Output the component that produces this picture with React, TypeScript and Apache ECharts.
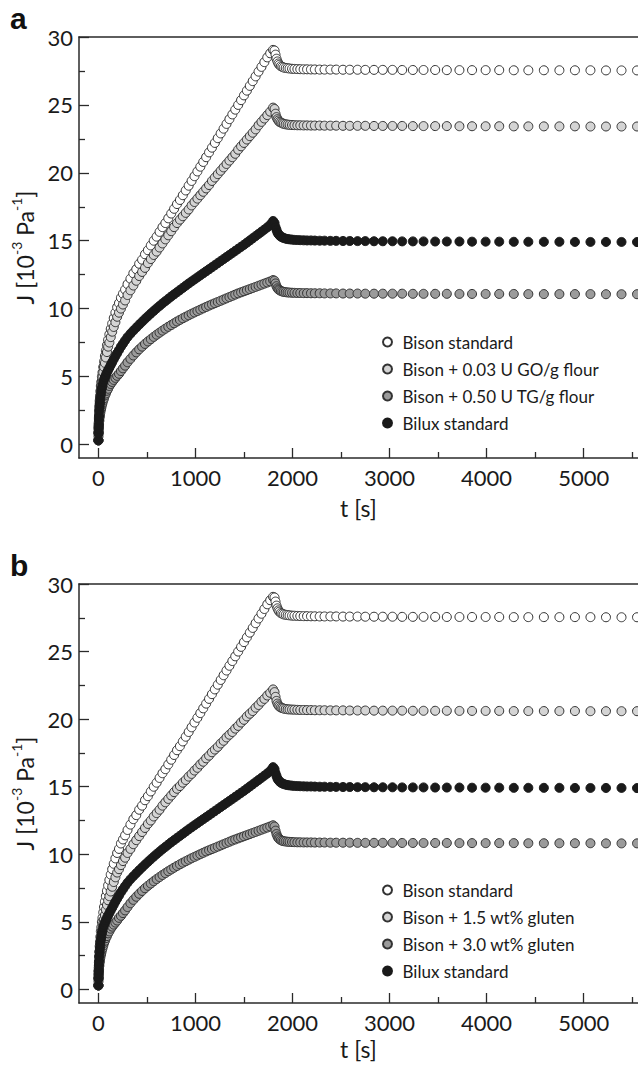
import React, { useEffect, useRef } from "react";
import * as echarts from "echarts";

// ---- Data ----
const T_CREEP = [0,1,2,3,5,7,10,13,16,20,25,30,36,42,50,58,67,77,88,100,113,127,142,158,175,193,212,232,253,275,300,330,360,390,420,450,480,510,540,570,600,630,660,690,720,750,780,810,840,870,900,930,960,990,1020,1050,1080,1110,1140,1170,1200,1230,1260,1290,1320,1350,1380,1410,1440,1470,1500,1530,1560,1590,1620,1650,1680,1710,1740,1770,1800];
const T_REC = [1815,1825,1835,1845,1855,1865,1880,1895,1910,1930,1950,1970,1995,2020,2050,2080,2115,2150,2190,2230,2280,2330,2390,2450,2520,2590,2670,2750,2840,2930,3030,3130,3240,3350,3470,3590,3720,3850,3990,4130,4280,4430,4590,4750,4910,5070,5230,5390,5550];

// Bison standard (both panels)
const BISON_STD_CREEP = [0.3,0.9,1.3,1.6,2.0,2.4,2.8,3.2,3.5,3.9,4.3,4.6,5.0,5.3,5.7,6.1,6.5,6.9,7.3,7.7,8.1,8.5,8.9,9.3,9.7,10.1,10.4,10.8,11.1,11.4,11.8,
  12.2,12.6,12.9,13.3,13.6,14.0,14.3,14.65,15.0,15.3,15.65,16.0,16.3,16.65,17.0,17.35,17.7,18.0,18.35,18.7,19.05,19.4,19.75,20.1,20.45,20.8,21.15,21.5,21.85,22.2,22.55,22.9,23.25,23.6,23.95,24.3,24.65,25.0,25.35,25.7,26.05,26.4,26.75,27.1,27.45,27.8,28.15,28.5,28.8,29.05];
const BISON_STD_REC = [29.0,28.7,28.4,28.2,28.05,27.95,27.85,27.8,27.75,27.72,27.7,27.68,27.66,27.65,27.64,27.63,27.62,27.62,27.61,27.61,27.6,27.6,27.6,27.6,27.59,27.59,27.59,27.58,27.58,27.58,27.58,27.57,27.57,27.57,27.57,27.56,27.56,27.56,27.56,27.56,27.55,27.55,27.55,27.55,27.55,27.55,27.54,27.54,27.54];

// Bilux standard (both panels)
const BILUX_STD_CREEP = [0.3,0.8,1.15,1.4,1.8,2.1,2.5,2.8,3.05,3.35,3.65,3.9,4.15,4.35,4.6,4.78,4.95,5.12,5.3,5.47,5.65,5.85,6.05,6.27,6.5,6.72,6.95,7.2,7.42,7.65,7.9,
  8.15,8.38,8.6,8.82,9.03,9.24,9.44,9.64,9.83,10.02,10.2,10.38,10.55,10.72,10.89,11.05,11.21,11.37,11.53,11.69,11.85,12.0,12.15,12.3,12.45,12.6,12.75,12.9,13.05,13.2,13.35,13.5,13.65,13.8,13.95,14.1,14.25,14.4,14.55,14.7,14.86,15.02,15.18,15.34,15.5,15.66,15.82,15.98,16.18,16.45];
const BILUX_STD_REC = [16.3,16.0,15.8,15.6,15.5,15.4,15.3,15.25,15.2,15.15,15.12,15.1,15.08,15.06,15.05,15.04,15.03,15.02,15.02,15.01,15.0,15.0,14.99,14.99,14.98,14.98,14.97,14.97,14.96,14.96,14.96,14.95,14.95,14.95,14.94,14.94,14.94,14.93,14.93,14.93,14.92,14.92,14.92,14.92,14.91,14.91,14.91,14.91,14.9];

// Panel a: + 0.03 U GO/g flour
const GO_CREEP = [0.3,0.85,1.2,1.5,1.9,2.2,2.6,3.0,3.3,3.6,4.0,4.3,4.65,4.9,5.3,5.7,6.0,6.4,6.8,7.2,7.5,7.9,8.3,8.65,9.0,9.4,9.7,10.0,10.3,10.6,11.0,
  11.35,11.7,12.05,12.4,12.7,13.0,13.35,13.65,13.95,14.2,14.5,14.8,15.1,15.4,15.7,16.0,16.3,16.55,16.8,17.05,17.3,17.6,17.85,18.1,18.35,18.6,18.85,19.1,19.4,19.65,19.9,20.15,20.4,20.65,20.9,21.15,21.4,21.7,21.95,22.2,22.45,22.7,22.95,23.2,23.5,23.75,24.0,24.25,24.5,24.8];
const GO_REC = [24.7,24.35,24.1,23.95,23.85,23.75,23.7,23.65,23.6,23.57,23.55,23.53,23.52,23.51,23.5,23.5,23.49,23.49,23.48,23.48,23.48,23.47,23.47,23.47,23.46,23.46,23.46,23.46,23.45,23.45,23.45,23.45,23.44,23.44,23.44,23.44,23.43,23.43,23.43,23.43,23.42,23.42,23.42,23.42,23.42,23.41,23.41,23.41,23.41];

// Panel a: + 0.50 U TG/g flour
const TG_CREEP = [0.3,0.6,0.85,1.0,1.3,1.5,1.75,2.0,2.15,2.35,2.55,2.7,2.9,3.05,3.25,3.4,3.6,3.75,3.95,4.1,4.3,4.45,4.6,4.75,4.9,5.05,5.2,5.4,5.6,5.8,6.05,
  6.3,6.55,6.78,7.0,7.2,7.4,7.58,7.75,7.92,8.08,8.23,8.38,8.52,8.66,8.79,8.92,9.05,9.17,9.29,9.4,9.51,9.62,9.72,9.82,9.92,10.02,10.12,10.22,10.31,10.4,10.49,10.58,10.67,10.76,10.85,10.94,11.03,11.12,11.2,11.28,11.36,11.44,11.52,11.6,11.68,11.76,11.84,11.92,12.0,12.1];
const TG_REC = [12.05,11.85,11.65,11.5,11.42,11.36,11.3,11.26,11.23,11.21,11.19,11.18,11.17,11.16,11.15,11.15,11.14,11.14,11.13,11.13,11.13,11.12,11.12,11.12,11.11,11.11,11.11,11.1,11.1,11.1,11.1,11.1,11.09,11.09,11.09,11.09,11.08,11.08,11.08,11.08,11.08,11.07,11.07,11.07,11.07,11.07,11.06,11.06,11.06];

// Panel b: + 1.5 wt% gluten
const GL15_CREEP = [0.3,0.8,1.1,1.4,1.75,2.0,2.4,2.75,3.05,3.3,3.7,3.95,4.25,4.55,4.9,5.2,5.5,5.9,6.25,6.6,6.9,7.25,7.6,7.95,8.3,8.65,8.9,9.2,9.5,9.75,10.1,
  10.4,10.75,11.05,11.35,11.65,11.95,12.25,12.5,12.8,13.05,13.3,13.6,13.85,14.1,14.35,14.6,14.85,15.05,15.3,15.5,15.75,15.95,16.2,16.4,16.65,16.85,17.1,17.3,17.55,17.75,17.95,18.2,18.4,18.65,18.85,19.05,19.3,19.5,19.75,19.95,20.2,20.4,20.6,20.85,21.05,21.3,21.5,21.75,21.95,22.2];
const GL15_REC = [22.0,21.65,21.35,21.15,21.02,20.93,20.86,20.82,20.78,20.75,20.73,20.72,20.71,20.7,20.69,20.68,20.68,20.67,20.67,20.66,20.66,20.66,20.65,20.65,20.65,20.64,20.64,20.64,20.63,20.63,20.63,20.63,20.62,20.62,20.62,20.62,20.61,20.61,20.61,20.61,20.6,20.6,20.6,20.6,20.6,20.59,20.59,20.59,20.59];

// Panel b: + 3.0 wt% gluten
const GL30_CREEP = [0.3,0.6,0.85,1.0,1.3,1.5,1.75,2.0,2.15,2.35,2.55,2.7,2.9,3.05,3.25,3.45,3.6,3.8,3.95,4.15,4.3,4.5,4.65,4.8,4.95,5.1,5.3,5.45,5.65,5.85,6.1,
  6.38,6.63,6.86,7.08,7.29,7.49,7.67,7.84,8.01,8.17,8.32,8.47,8.61,8.75,8.88,9.01,9.14,9.26,9.38,9.49,9.6,9.71,9.81,9.91,10.01,10.11,10.21,10.3,10.39,10.48,10.57,10.66,10.75,10.84,10.93,11.02,11.1,11.18,11.26,11.34,11.42,11.5,11.58,11.66,11.74,11.82,11.9,11.98,12.06,12.15];
const GL30_REC = [12.05,11.75,11.5,11.32,11.2,11.12,11.05,11.0,10.97,10.95,10.93,10.92,10.91,10.9,10.89,10.89,10.88,10.88,10.88,10.87,10.87,10.87,10.86,10.86,10.86,10.86,10.85,10.85,10.85,10.85,10.85,10.84,10.84,10.84,10.84,10.84,10.83,10.83,10.83,10.83,10.83,10.82,10.82,10.82,10.82,10.82,10.81,10.81,10.81];

const X_MAJOR = [0, 1000, 2000, 3000, 4000, 5000];
const X_MINOR = [500, 1500, 2500, 3500, 4500, 5500];
const Y_MAJOR = [0, 5, 10, 15, 20, 25, 30];
const Y_MINOR = [2.5, 7.5, 12.5, 17.5, 22.5, 27.5];

const NAMES_A = ["Bison standard", "Bison + 0.03 U GO/g flour", "Bison + 0.50 U TG/g flour", "Bilux standard"];
const NAMES_B = ["Bison standard", "Bison + 1.5 wt% gluten", "Bison + 3.0 wt% gluten", "Bilux standard"];

const FONT = "Lato";
const AX = "#2a2a2a";
const TXT = "#1a1a1a";

function build(creep: number[], rec: number[]) {
  const d: number[][] = [];
  T_CREEP.forEach((t, i) => d.push([t, creep[i]]));
  T_REC.forEach((t, i) => d.push([t, rec[i]]));
  return d;
}

export default function App() {
  const ref = useRef<HTMLDivElement>(null);
  useEffect(() => {
    if (!ref.current) return;
    const chart = echarts.init(ref.current, undefined, { renderer: "svg" });
    const grids = [
      { left: 79, top: 37, width: 559, height: 421, containLabel: false, outerBoundsMode: "none" },
      { left: 79, top: 584, width: 559, height: 419, containLabel: false, outerBoundsMode: "none" },
    ];
    const nameGaps = [38, 34];
    const fmt = (v: number) => String(v);
    const xAxes: any[] = [];
    const yAxes: any[] = [];
    grids.forEach((_, g) => {
      const common = { type: "value", gridIndex: g, min: -200, max: 5560, splitLine: { show: false } };
      xAxes.push({
        ...common,
        position: "bottom",
        name: "t [s]",
        nameLocation: "middle",
        nameGap: nameGaps[g],
        nameTextStyle: { fontFamily: FONT, fontSize: 23, color: TXT, lineHeight: 24 },
        axisLine: { show: true, onZero: false, lineStyle: { color: AX, width: 1.5 } },
        axisTick: { show: true, inside: true, length: 10, customValues: X_MAJOR, lineStyle: { color: AX, width: 1.3 } },
        axisLabel: { show: true, customValues: X_MAJOR, formatter: fmt, margin: 8, fontFamily: FONT, fontSize: 22, color: TXT },
      });
      xAxes.push({
        ...common,
        position: "bottom",
        axisLine: { show: false, onZero: false },
        axisTick: { show: true, inside: true, length: 6, customValues: X_MINOR, lineStyle: { color: AX, width: 1.3 } },
        axisLabel: { show: false },
      });
      xAxes.push({
        ...common,
        position: "top",
        axisLine: { show: true, onZero: false, lineStyle: { color: AX, width: 1.5 } },
        axisTick: { show: false },
        axisLabel: { show: false },
      });
      const ycommon = { type: "value", gridIndex: g, min: -1, max: 30, splitLine: { show: false } };
      yAxes.push({
        ...ycommon,
        position: "left",
        name: "{n|J [10}{s|-3}{n| Pa}{s|-1}{n|]}",
        nameLocation: "middle",
        nameGap: 38,
        nameRotate: 90,
        nameTextStyle: {
          fontFamily: FONT,
          color: TXT,
          rich: {
            n: { fontFamily: FONT, fontSize: 23, color: TXT, lineHeight: 32 },
            s: { fontFamily: FONT, fontSize: 14, color: TXT, lineHeight: 14, verticalAlign: "top" },
          },
        },
        axisLine: { show: true, onZero: false, lineStyle: { color: AX, width: 1.5 } },
        axisTick: { show: true, inside: true, length: 10, customValues: Y_MAJOR, lineStyle: { color: AX, width: 1.3 } },
        axisLabel: { show: true, customValues: Y_MAJOR, formatter: fmt, margin: 6, fontFamily: FONT, fontSize: 22, color: TXT },
      });
      yAxes.push({
        ...ycommon,
        position: "left",
        axisLine: { show: false, onZero: false },
        axisTick: { show: true, inside: true, length: 6, customValues: Y_MINOR, lineStyle: { color: AX, width: 1.3 } },
        axisLabel: { show: false },
      });
    });

    const styles = [
      { color: "#ffffff", borderColor: "#333333" },
      { color: "#d4d4d4", borderColor: "#333333" },
      { color: "#9b9b9b", borderColor: "#333333" },
      { color: "#1a1a1a", borderColor: "#1a1a1a" },
    ];
    const panelData = [
      [build(BISON_STD_CREEP, BISON_STD_REC), build(GO_CREEP, GO_REC), build(TG_CREEP, TG_REC), build(BILUX_STD_CREEP, BILUX_STD_REC)],
      [build(BISON_STD_CREEP, BISON_STD_REC), build(GL15_CREEP, GL15_REC), build(GL30_CREEP, GL30_REC), build(BILUX_STD_CREEP, BILUX_STD_REC)],
    ];
    const panelNames = [NAMES_A, NAMES_B];
    const series: any[] = [];
    panelData.forEach((arr, g) => {
      arr.forEach((data, k) => {
        series.push({
          type: "scatter",
          name: panelNames[g][k],
          xAxisIndex: g * 3,
          yAxisIndex: g * 2,
          data,
          symbol: "circle",
          symbolSize: 9,
          silent: true,
          itemStyle: { ...styles[k], borderWidth: 1, opacity: 1 },
          emphasis: { disabled: true },
        });
      });
    });

    const legendCommon = {
      orient: "vertical",
      left: 377,
      itemWidth: 20,
      itemHeight: 9,
      itemGap: 7,
      selectedMode: false,
      textStyle: { fontFamily: FONT, fontSize: 17, color: TXT, lineHeight: 20 },
    };

    chart.setOption({
      animation: false,
      backgroundColor: "#ffffff",
      grid: grids,
      xAxis: xAxes,
      yAxis: yAxes,
      series,
      legend: [
        { ...legendCommon, top: 327, data: NAMES_A },
        { ...legendCommon, top: 875, data: NAMES_B },
      ],
      graphic: [
        { type: "text", x: 10, y: 18, style: { text: "a", fontFamily: "Liberation Sans", fontWeight: "bold", fontSize: 30, fill: "#111", verticalAlign: "middle" } },
        { type: "text", x: 10, y: 565, style: { text: "b", fontFamily: "Liberation Sans", fontWeight: "bold", fontSize: 30, fill: "#111", verticalAlign: "middle" } },
      ],
    });
    return () => chart.dispose();
  }, []);
  return <div ref={ref} style={{ position: "fixed", left: 0, top: 0, width: 638, height: 1065 }} />;
}
